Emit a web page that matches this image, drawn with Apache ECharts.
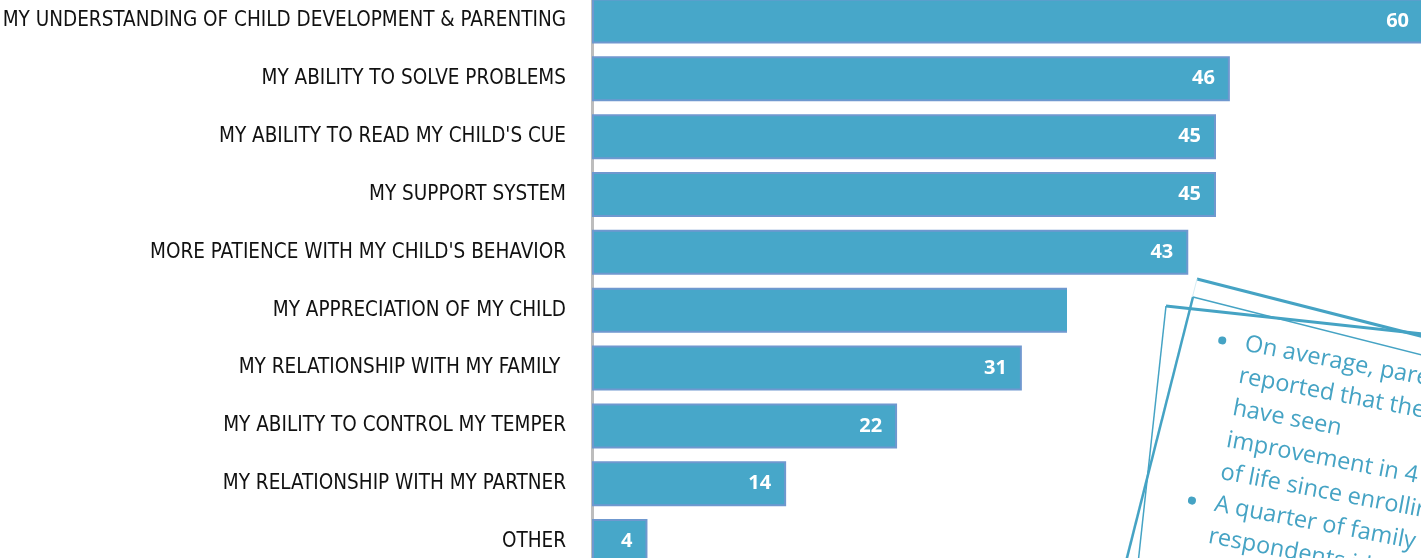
<!DOCTYPE html>
<html>
<head>
<meta charset="utf-8">
<script src="https://cdn.jsdelivr.net/npm/echarts@6/dist/echarts.min.js"></script>
<style>
  html, body { margin: 0; padding: 0; background: #fff; }
  #chartdiv { width: 1421px; height: 558px; }
</style>
</head>
<body>
<div id="chartdiv"></div>
<script>
const categories = [
  "MY UNDERSTANDING OF CHILD DEVELOPMENT & PARENTING",
  "MY ABILITY TO SOLVE PROBLEMS",
  "MY ABILITY TO READ MY CHILD'S CUE",
  "MY SUPPORT SYSTEM",
  "MORE PATIENCE WITH MY CHILD'S BEHAVIOR",
  "MY APPRECIATION OF MY CHILD",
  "MY RELATIONSHIP WITH MY FAMILY ",
  "MY ABILITY TO CONTROL MY TEMPER",
  "MY RELATIONSHIP WITH MY PARTNER",
  "OTHER"
];
const counts = [60, 46, 45, 45, 43, 37, 31, 22, 14, 4];

const noteLines = [
  "On average, parents",
  "reported that they",
  "have seen",
  "improvement in 4 areas",
  "of life since enrolling.",
  "A quarter of family",
  "respondents identified",
  "one area of growth."
];
const bulletRows = [0, 5];

const BLUE = "#45a3c4";

// rotated frame edges drawn as two lines from a corner
function frameEdges(x, y, deg, topW, leftW, leftColor) {
  const a = deg * Math.PI / 180;
  const len = 420;
  return [
    {
      type: "line", z: 20,
      shape: { x1: x, y1: y, x2: x + len * Math.cos(a), y2: y + len * Math.sin(a) },
      style: { stroke: BLUE, lineWidth: topW }
    },
    {
      type: "line", z: 20,
      shape: { x1: x, y1: y, x2: x - len * Math.sin(a), y2: y + len * Math.cos(a) },
      style: { stroke: leftColor || BLUE, lineWidth: leftW }
    }
  ];
}

function buildNote() {
  const tilt = 10.7 * Math.PI / 180;
  const lh = 32.6;
  const children = [{
    type: "text",
    z: 30,
    x: 0, y: 0,
    style: {
      text: noteLines.join("\n"),
      fill: BLUE,
      fontFamily: "Open Sans",
      fontSize: 23.5,
      lineHeight: lh,
      verticalAlign: "top"
    }
  }];
  bulletRows.forEach(r => {
    children.push({
      type: "circle",
      z: 30,
      shape: { cx: -23, cy: r * lh + 17, r: 4 },
      style: { fill: BLUE }
    });
  });
  return { type: "group", x: 1248, y: 328, rotation: -tilt, z: 30, children: children };
}

const chart = echarts.init(document.getElementById("chartdiv"));

chart.setOption({
  animation: false,
  grid: { left: 592, top: -8, width: 832, height: 578.5, containLabel: false, outerBoundsMode: "none" },
  xAxis: {
    type: "value", min: 0, max: 60,
    show: false
  },
  yAxis: {
    type: "category",
    inverse: true,
    data: categories,
    axisLine: { show: true, lineStyle: { color: "#bdbdbd", width: 3 } },
    axisTick: { show: false },
    axisLabel: {
      margin: 26,
      color: "#111",
      fontFamily: "'Liberation Sans Narrow', 'DejaVu Sans Condensed', sans-serif",
      fontSize: 20.5
    }
  },
  series: [{
    type: "bar",
    data: counts,
    barWidth: 45,
    itemStyle: { color: "#47a7c9", borderColor: "#6f98cf", borderWidth: 2 },
    label: {
      show: true,
      position: "insideRight",
      distance: 15,
      color: "#fff",
      fontFamily: "'Open Sans', sans-serif",
      fontWeight: "bold",
      fontSize: 20
    }
  }],
  graphic: [
    // white paper of the note, covering the end of the bar beneath it
    { type: "rect", z: 10, shape: { x: 1067, y: 279, width: 400, height: 300 }, style: { fill: "#fff" } },
    ...frameEdges(1197, 279, 14.3, 3, 1, "#d5ecf3"),
    ...frameEdges(1193, 297, 14.2, 1.5, 2.5),
    ...frameEdges(1166, 306, 6.2, 3, 1.5),
    buildNote()
  ]
});
</script>
</body>
</html>
